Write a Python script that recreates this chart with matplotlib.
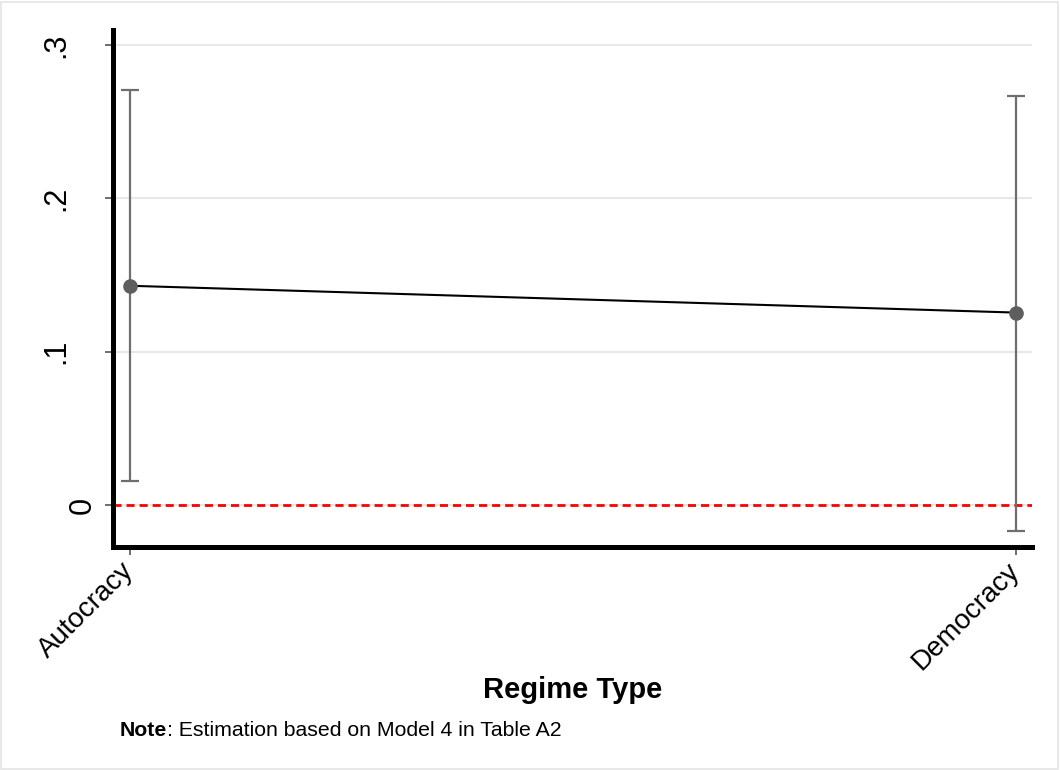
import matplotlib.pyplot as plt
from matplotlib.patches import Rectangle
from matplotlib.transforms import ScaledTranslation

plt.rcParams['font.family'] = ['Liberation Sans', 'DejaVu Sans']

# marginal effect by regime type, with 95% CI
regimes = ['Autocracy', 'Democracy']
effect = [0.143, 0.1255]
ci_low = [0.0157, -0.0170]
ci_high = [0.2707, 0.2668]
yticks = [0, 0.1, 0.2, 0.3]
ytick_labels = ['0', '.1', '.2', '.3']

x = list(range(len(regimes)))

fig = plt.figure(figsize=(10.6, 7.7), dpi=100)
ax = fig.add_axes([0.1066, 0.2896, 0.8670, 0.6714])

# light frame around the whole graph region
fig.patches.append(Rectangle((0.001, 0.001), 0.997, 0.997, transform=fig.transFigure,
                             fill=False, edgecolor='#e4e4e4', lw=1.2))

for y in yticks:
    ax.axhline(y, color='#e8e8e8', lw=1.5, zorder=0)
ax.axhline(0, color='red', lw=2.0, dashes=(2.9, 1.8), zorder=1)

lo = [e - l for e, l in zip(effect, ci_low)]
hi = [h - e for e, h in zip(effect, ci_high)]
ax.errorbar(x, effect, yerr=[lo, hi], fmt='none', ecolor='#6e6e6e',
            elinewidth=1.6, capsize=6.5, capthick=1.6, zorder=2)
ax.plot(x, effect, color='black', lw=1.5, zorder=3)
ax.plot(x, effect, 'o', color='#5e5e5e', ms=9.5, zorder=4)

ax.set_xlim(-0.019, 1.018)
ax.set_ylim(-0.0274, 0.3098)

ax.set_yticks(yticks)
ax.set_yticklabels(ytick_labels, rotation=90, va='center', fontsize=22)
ax.set_xticks(x)
ax.set_xticklabels(regimes, rotation=45, ha='right', va='center',
                   rotation_mode='anchor', fontsize=20)
ax.tick_params(axis='both', direction='out', length=6, width=1.2, color='#555555')
ax.tick_params(axis='y', pad=24)
ax.tick_params(axis='x', pad=8)

# the zero label sits closer to the axis
lab0 = ax.get_yticklabels()[0]
lab0.set_transform(lab0.get_transform() + ScaledTranslation(0.26, 0, fig.dpi_scale_trans))

for side in ['top', 'right']:
    ax.spines[side].set_visible(False)
for side in ['left', 'bottom']:
    ax.spines[side].set_linewidth(3.6)
    ax.spines[side].set_color('black')
    ax.spines[side].set_capstyle('projecting')

fig.text(0.5406, 0.104, 'Regime Type', ha='center', va='center',
         fontsize=21, fontweight='bold')
note = fig.text(0.113, 0.051, 'Note', ha='left', va='center', fontsize=15.3, fontweight='bold')
fig.canvas.draw()
bb = note.get_window_extent()
fig.text(bb.x1 / fig.bbox.width, 0.051, ': Estimation based on Model 4 in Table A2',
         ha='left', va='center', fontsize=15.3)

fig.savefig('out.png', dpi=100)
